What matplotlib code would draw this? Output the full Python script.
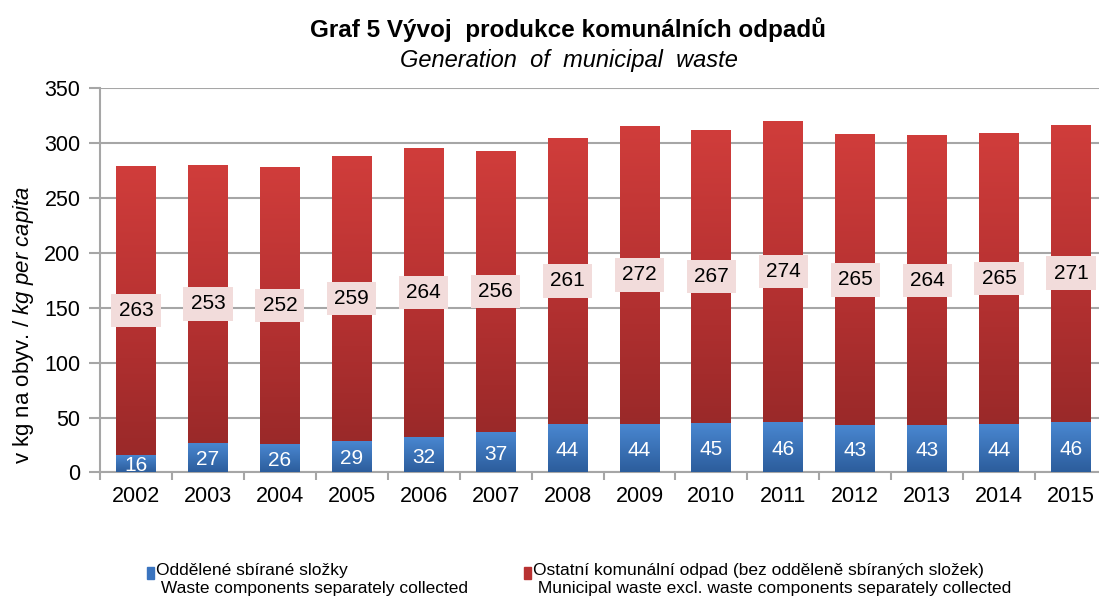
import numpy as np
import matplotlib.pyplot as plt
from matplotlib.colors import LinearSegmentedColormap

plt.rcParams['font.family'] = ['Liberation Sans', 'DejaVu Sans']
plt.rcParams['mathtext.fontset'] = 'custom'
plt.rcParams['mathtext.rm'] = 'Liberation Sans'
plt.rcParams['mathtext.it'] = 'Liberation Sans:italic'

# data
years = ['2002', '2003', '2004', '2005', '2006', '2007', '2008',
         '2009', '2010', '2011', '2012', '2013', '2014', '2015']
separated = [16, 27, 26, 29, 32, 37, 44, 44, 45, 46, 43, 43, 44, 46]
other = [263, 253, 252, 259, 264, 256, 261, 272, 267, 274, 265, 264, 265, 271]

sep_label = "Oddělené sbírané složky\n Waste components separately collected"
oth_label = "Ostatní komunální odpad (bez odděleně sbíraných složek)\n Municipal waste excl. waste components separately collected"

blue_cmap = LinearSegmentedColormap.from_list('b', ['#2c5d9c', '#4a88d2'])
red_cmap = LinearSegmentedColormap.from_list('r', ['#9a2929', '#b83232', '#d03d3b'])

fig = plt.figure(figsize=(10.99, 6.01), dpi=100)
# plot area runs a bit past the right edge, like the cropped original
ax = fig.add_axes([0.091, 0.214, 0.9163, 0.6391])

x = np.arange(len(years))
w = 0.555
b1 = ax.bar(x, separated, w, color='none', zorder=3)
b2 = ax.bar(x, other, w, bottom=separated, color='none', zorder=3)

grad = np.linspace(0, 1, 256).reshape(-1, 1)
for bars, cmap in [(b1, blue_cmap), (b2, red_cmap)]:
    for p in bars:
        x0, y0 = p.get_x(), p.get_y()
        im = ax.imshow(grad, cmap=cmap, origin='lower', aspect='auto',
                       extent=[x0, x0 + p.get_width(), y0, y0 + p.get_height()],
                       zorder=3, interpolation='bicubic')
        im.set_clip_path(p)

for i in range(len(years)):
    ax.text(x[i], separated[i] / 2 - 2, str(separated[i]), ha='center', va='center',
            color='white', fontsize=15, zorder=5)
    ax.text(x[i], separated[i] + other[i] / 2, str(other[i]), ha='center', va='center',
            color='black', fontsize=15, zorder=5,
            bbox=dict(boxstyle='square,pad=0.35', fc='#f2dcdb', ec='none'))

ax.set_xlim(-0.5, len(years) - 0.5)
ax.set_ylim(0, 350)
ax.set_yticks(range(0, 351, 50))
ax.set_xticks(x)
ax.set_xticklabels(years)
ax.set_xticks(np.arange(-0.5, len(years), 1), minor=True)
ax.tick_params(axis='x', which='major', length=0, labelsize=15.5, pad=10)
ax.tick_params(axis='x', which='minor', length=6, color='#a6a6a6', width=1.5)
ax.tick_params(axis='y', length=8, color='#a6a6a6', width=1.5, labelsize=15.5, pad=6)
ax.grid(axis='y', color='#a6a6a6', lw=1.5, zorder=0)
ax.set_axisbelow(True)
for s in ['top', 'right']:
    ax.spines[s].set_visible(False)
for s in ['left', 'bottom']:
    ax.spines[s].set_color('#a6a6a6')
    ax.spines[s].set_linewidth(1.5)

ax.set_ylabel(r"v kg na obyv. / $\it{kg\ per\ capita}$", fontsize=16)
ax.yaxis.set_label_coords(-0.064, 0.384)

fig.text(0.517, 0.950, "Graf 5 Vývoj  produkce komunálních odpadů", ha='center',
         va='center', fontsize=17.5, fontweight='bold')
fig.text(0.518, 0.899, "Generation  of  municipal  waste", ha='center',
         va='center', fontsize=17, style='italic')

# legend
fig.patches.append(plt.Rectangle((0.1335, 0.037), 0.0065, 0.02, transform=fig.transFigure,
                                 color='#3a74bf'))
fig.patches.append(plt.Rectangle((0.4765, 0.037), 0.0065, 0.02, transform=fig.transFigure,
                                 color='#b83232'))
fig.text(0.142, 0.064, sep_label, fontsize=12.5, va='top', linespacing=1.3)
fig.text(0.485, 0.064, oth_label, fontsize=12.5, va='top', linespacing=1.3)

fig.savefig('out.png', dpi=100)
